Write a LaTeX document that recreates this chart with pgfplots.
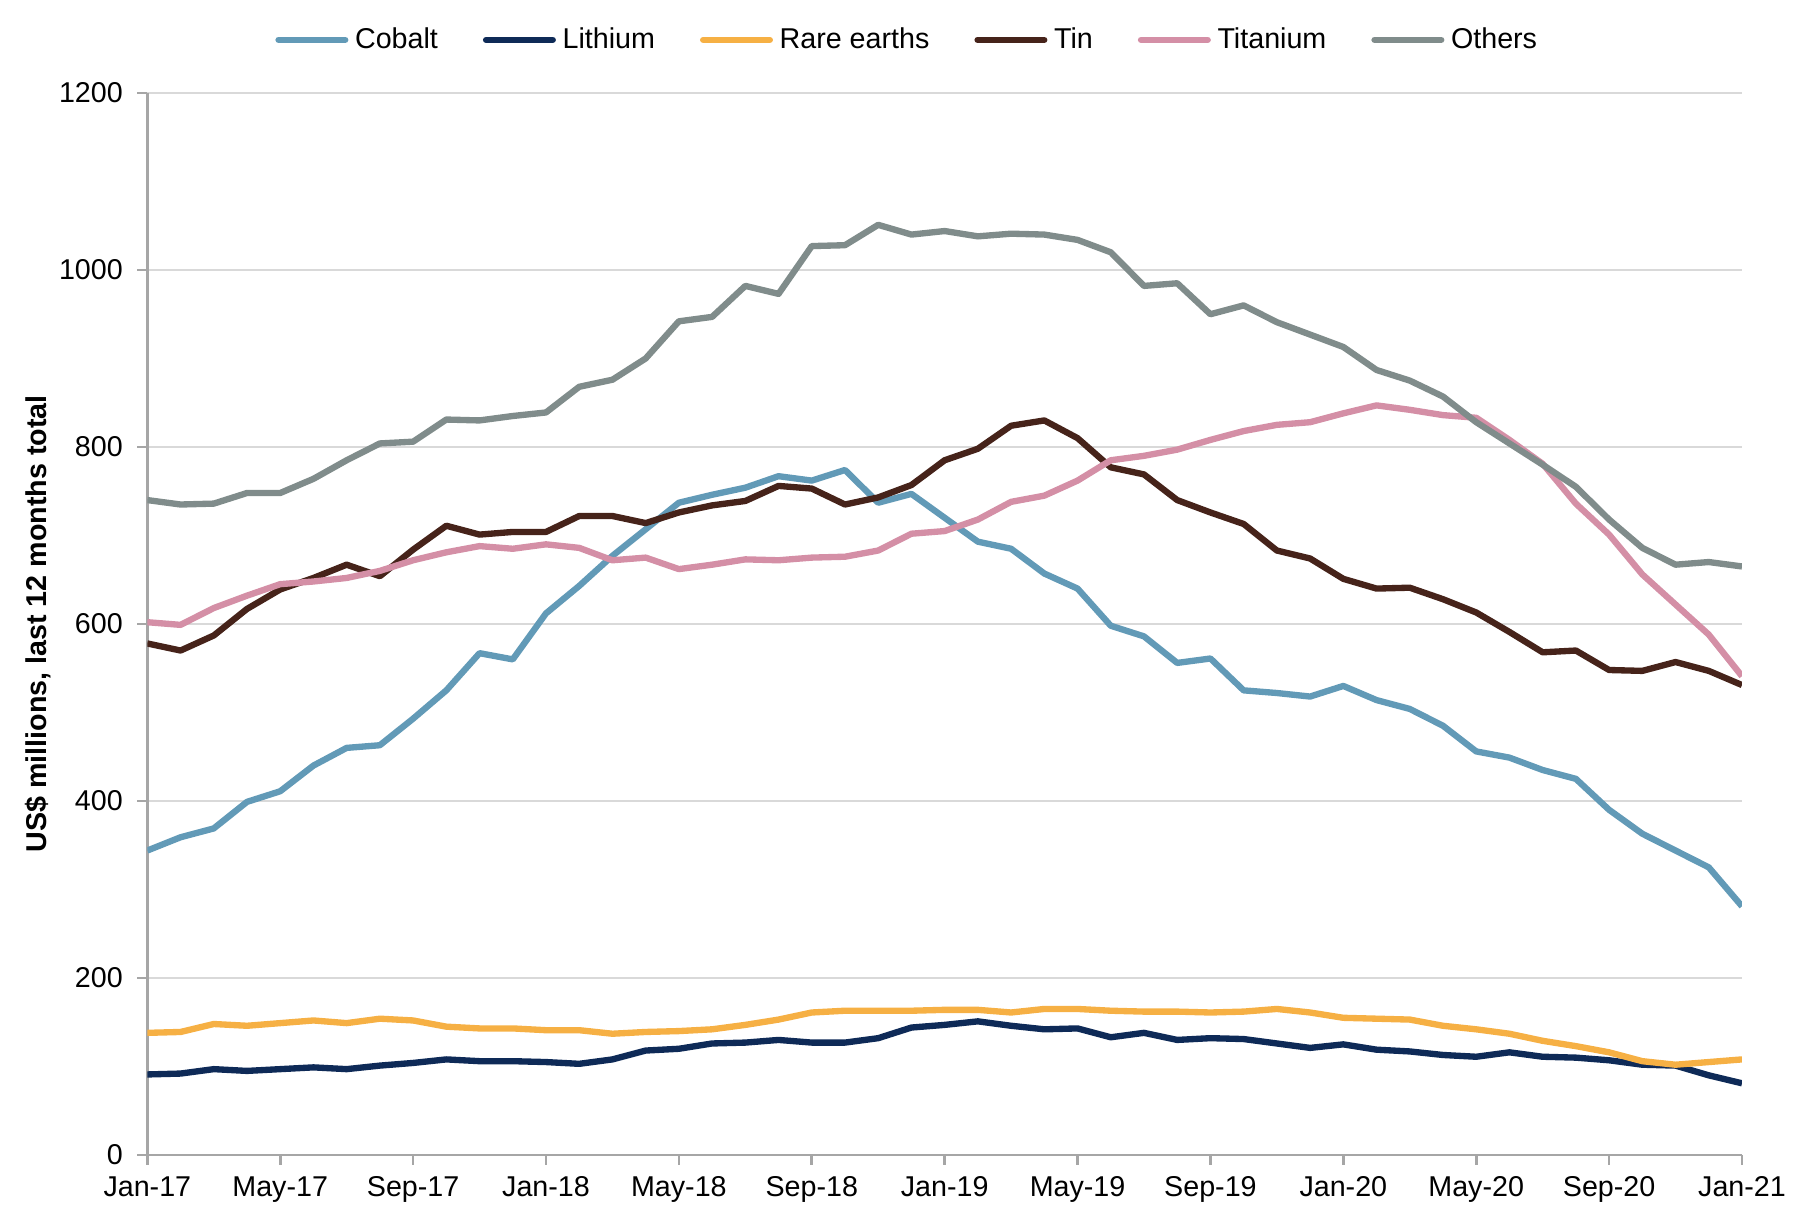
\documentclass[border=0pt]{standalone}
\usepackage{fontspec}
\setmainfont{Liberation Sans}
\usepackage{pgfplots}
\usepackage{pgfplotstable}
\pgfplotsset{compat=1.18}
\definecolor{cCobalt}{HTML}{629AB7}
\definecolor{cLithium}{HTML}{0E2A57}
\definecolor{cRare}{HTML}{F6B044}
\definecolor{cTin}{HTML}{46231A}
\definecolor{cTitanium}{HTML}{D48FA6}
\definecolor{cOthers}{HTML}{808C8B}
\definecolor{axgray}{HTML}{A6A6A6}
\definecolor{gridgray}{HTML}{D9D9D9}

\pgfplotstableread{
i cobalt lithium rare tin titanium others
0 344 91 138 578 602 740
1 359 92 139 570 599 735
2 369 97 148 587 618 736
3 399 95 146 617 632 748
4 411 97 149 639 645 748
5 440 99 152 652 648 764
6 460 97 149 667 652 785
7 463 101 154 654 660 804
8 493 104 152 684 672 806
9 525 108 145 711 681 831
10 567 106 143 701 688 830
11 560 106 143 704 685 835
12 612 105 141 704 690 839
13 643 103 141 722 686 868
14 677 108 137 722 672 876
15 707 118 139 714 675 900
16 737 120 140 726 662 942
17 746 126 142 734 667 947
18 754 127 147 739 673 982
19 767 130 153 756 672 973
20 762 127 161 753 675 1027
21 774 127 163 735 676 1028
22 737 132 163 743 683 1051
23 747 144 163 757 702 1040
24 720 147 164 785 705 1044
25 693 151 164 798 718 1038
26 685 146 161 824 738 1041
27 657 142 165 830 745 1040
28 640 143 165 810 762 1034
29 598 133 163 777 785 1020
30 586 138 162 769 790 982
31 556 130 162 740 797 985
32 561 132 161 726 808 950
33 525 131 162 713 818 960
34 522 126 165 683 825 941
35 518 121 161 674 828 927
36 530 125 155 651 838 913
37 514 119 154 640 847 887
38 504 117 153 641 842 875
39 485 113 146 628 836 857
40 456 111 142 613 833 828
41 449 116 137 591 808 804
42 435 111 129 568 781 780
43 425 110 123 570 736 755
44 390 107 116 548 701 718
45 363 102 106 547 656 686
46 344 101 102 557 622 667
47 325 90 105 547 588 670
48 281 81 108 531 541 665
}\datatable

\begin{document}
\fontsize{8.6}{10}\selectfont
\begin{tikzpicture}
\begin{axis}[
  at={(0,0)}, anchor=south west,
  scale only axis,
  width=478.4pt, height=318.6pt,
  xmin=0, xmax=48, ymin=0, ymax=1200,
  xtick={0,4,...,48},
  xticklabels={Jan-17,May-17,Sep-17,Jan-18,May-18,Sep-18,Jan-19,May-19,Sep-19,Jan-20,May-20,Sep-20,Jan-21},
  ytick={0,200,...,1200},
  axis x line*=bottom,
  axis y line*=left,
  axis line style={axgray, line width=0.8pt},
  tick style={axgray, line width=0.8pt},
  major tick length=3pt,
  tick pos=left,
  tick align=outside,
  ymajorgrids,
  grid style={gridgray, line width=0.5pt},
  ticklabel style={font=\fontsize{8.6}{10}\selectfont},
  /pgf/number format/assume math mode=true,
  /pgf/number format/1000 sep={},
  yticklabel style={xshift=-1.3pt},
  xticklabel style={yshift=-0.5pt},
  ylabel={\bfseries US\$ millions, last 12 months total},
  ylabel style={font=\fontsize{8.6}{10}\selectfont},
  every axis y label/.style={at={(ticklabel cs:0.5)}, rotate=90, anchor=near ticklabel, yshift=-3.5pt},
  legend columns=6,
  legend style={at={(0.478,1.050)}, anchor=center, draw=none, fill=none,
    font=\fontsize{8.6}{10}\selectfont,
    /tikz/every even column/.append style={column sep=11.5pt}},
  legend image code/.code={\draw[line width=1.9pt, line cap=round] (0pt,0pt) -- (20pt,0pt);},
  every axis plot/.append style={line width=1.9pt, line join=round, mark=none},
]
\addplot[cCobalt] table[x=i, y=cobalt] {\datatable};
\addlegendentry{Cobalt}
\addplot[cLithium] table[x=i, y=lithium] {\datatable};
\addlegendentry{Lithium}
\addplot[cRare] table[x=i, y=rare] {\datatable};
\addlegendentry{Rare earths}
\addplot[cTin] table[x=i, y=tin] {\datatable};
\addlegendentry{Tin}
\addplot[cTitanium] table[x=i, y=titanium] {\datatable};
\addlegendentry{Titanium}
\addplot[cOthers] table[x=i, y=others] {\datatable};
\addlegendentry{Others}
\end{axis}
\pgfresetboundingbox
\path (-44.2pt,-17.1pt) rectangle (497.0pt,346.5pt);
\end{tikzpicture}
\end{document}
